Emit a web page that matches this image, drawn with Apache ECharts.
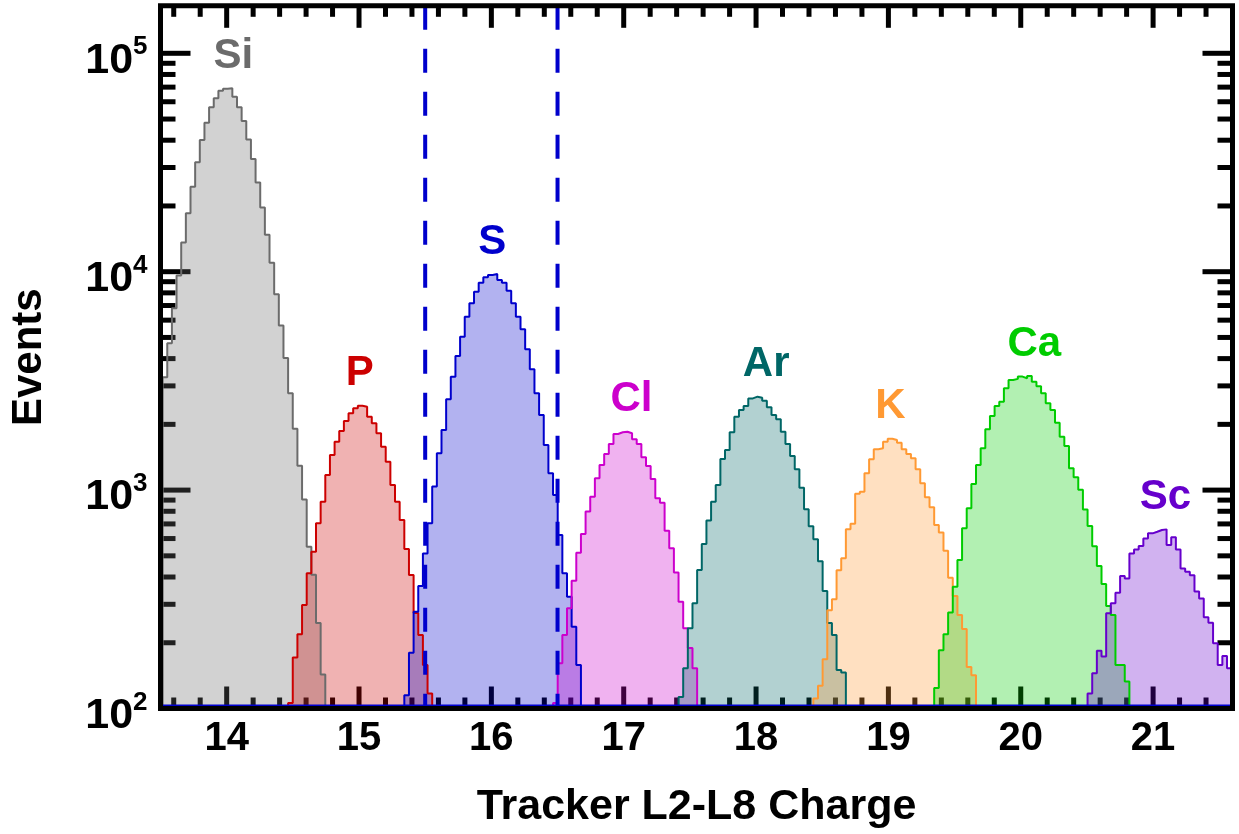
<!DOCTYPE html>
<html>
<head>
<meta charset="utf-8">
<title>Tracker L2-L8 Charge</title>
<script src="https://cdn.jsdelivr.net/npm/echarts@6/dist/echarts.min.js"></script>
<style>
  html, body { margin: 0; padding: 0; background: #ffffff; }
  #chart { width: 1239px; height: 834px; }
</style>
</head>
<body>
<div id="chart"></div>
<script>
// Charge histogram binning: bin k spans [BIN_ORIGIN + k*BIN_WIDTH, BIN_ORIGIN + (k+1)*BIN_WIDTH]
const BIN_ORIGIN = 13.516;
const BIN_WIDTH = 0.03512;

// Axis ranges
const X_MIN = 13.5, X_MAX = 21.6;
const Y_MIN = 100, Y_MAX = 165000;

// Selection cuts on the tracker charge (dashed lines)
const CUTS = [15.5, 16.5];

// Species, their charge and colours
const ELEMENTS = ['Si', 'P', 'S', 'Cl', 'Ar', 'K', 'Ca', 'Sc'];
const ELEMENT_Z = [14, 15, 16, 17, 18, 19, 20, 21];
const COLORS = ['#6b6b6b', '#cc0000', '#0000cc', '#cc00cc', '#006666', '#ff9933', '#00cc00', '#6600cc'];

// First filled bin of each histogram
const FIRST_BIN = [0, 27, 52, 84, 111, 140, 166, 199];

// Events per bin
const siCounts = [3290, 4700, 6800, 9600, 13600, 18500, 24500, 31700, 40100, 48100, 56600, 62300,
  67300, 68800, 69200, 63200, 56600, 49000, 40300, 32800, 25600, 19700, 14750, 10980, 7890, 5670,
  4025, 2773, 1909, 1293, 905, 550, 410, 246, 143];
const pCounts = [106, 171, 219, 298, 416, 522, 705, 885, 1172, 1448, 1667, 1865, 2072, 2247, 2369,
  2436, 2410, 2168, 2022, 1820, 1581, 1349, 1055, 885, 730, 538, 409, 274, 217, 158, 117];
const sCounts = [115, 180, 277, 364, 513, 705, 1040, 1474, 1885, 2604, 3306, 4112, 5040, 6223, 7165,
  8098, 8904, 9420, 9660, 9760, 9150, 8904, 8180, 7165, 6223, 5450, 4412, 3573, 2775, 2208, 1609,
  1194, 950, 623, 416, 325, 237, 158];
const clCounts = [106, 161, 217, 288, 385, 517, 630, 797, 933, 1132, 1303, 1463, 1626, 1807, 1839,
  1851, 1820, 1709, 1626, 1413, 1290, 1124, 917, 876, 652, 541, 419, 308, 233, 189, 153];
const arCounts = [113, 153, 233, 303, 431, 566, 725, 885, 1055, 1388, 1526, 1839, 2168, 2327, 2427,
  2630, 2678, 2650, 2566, 2393, 2208, 2109, 1851, 1626, 1432, 1245, 1025, 817, 683, 596, 472, 345,
  246, 217, 150, 146];
const kCounts = [111, 127, 168, 282, 316, 430, 487, 661, 702, 963, 984, 1194, 1384, 1538, 1553, 1666,
  1719, 1696, 1649, 1538, 1463, 1398, 1245, 1074, 927, 834, 692, 640, 527, 397, 327, 268, 231, 155, 142];
const caCounts = [124, 185, 219, 275, 361, 479, 668, 825, 1067, 1303, 1553, 1898, 2183, 2427, 2540,
  2924, 3192, 3230, 3310, 3250, 3330, 3135, 2990, 2773, 2497, 2327, 2036, 1757, 1592, 1259, 1145,
  1005, 815, 684, 553, 449, 372, 295, 268, 158, 158, 133];
const scCounts = [117, 145, 184, 173, 273, 303, 339, 404, 394, 512, 535, 554, 601, 634, 645, 657, 661,
  561, 608, 535, 438, 423, 408, 343, 319, 262, 247, 199, 158, 174, 153];

const COUNTS = [siCounts, pCounts, sCounts, clCounts, arCounts, kCounts, caCounts, scCounts];

// Tick values
const X_MAJOR = [14, 15, 16, 17, 18, 19, 20, 21];
const X_MINOR_STEP = 0.2;
const Y_DECADES = [100, 1000, 10000, 100000];

const FONT_FAMILY = '"Liberation Sans", Arial, Helvetica, sans-serif';
const EMPTY_LEVEL = 1; // level used outside a histogram (below the axis floor)

function binEdge(k) {
  return Math.round((BIN_ORIGIN + k * BIN_WIDTH) * 1e6) / 1e6;
}

function histogramPoints(firstBin, counts) {
  const pts = [[binEdge(firstBin), EMPTY_LEVEL]];
  counts.forEach((c, i) => pts.push([binEdge(firstBin + i), c]));
  pts.push([binEdge(firstBin + counts.length), EMPTY_LEVEL]);
  return pts;
}

// Minor tick positions
const xMinor = [];
for (let i = 1; ; i++) {
  const v = Math.round((X_MIN + 0.1 + (i - 1) * X_MINOR_STEP) * 1000) / 1000;
  if (v > X_MAX + 1e-9) break;
  if (Math.abs(v - Math.round(v)) > 1e-6) xMinor.push(v);
}
const yMinor = [];
Y_DECADES.forEach(d => {
  for (let m = 2; m <= 9; m++) {
    const v = d * m;
    if (v < Y_MAX) yMinor.push(v);
  }
});

// Frame ticks, drawn beneath the histograms
function renderTicks(params, api) {
  const cs = params.coordSys;
  const left = cs.x, right = cs.x + cs.width, top = cs.y, bottom = cs.y + cs.height;
  const style = { stroke: '#000', lineWidth: 5 };
  const children = [];
  const xTick = (v, len) => {
    const px = api.coord([v, Y_MIN])[0];
    children.push({ type: 'line', shape: { x1: px, y1: bottom, x2: px, y2: bottom - len }, style });
    children.push({ type: 'line', shape: { x1: px, y1: top, x2: px, y2: top + len }, style });
  };
  const yTick = (v, len) => {
    const py = api.coord([X_MIN, v])[1];
    children.push({ type: 'line', shape: { x1: left, y1: py, x2: left + len, y2: py }, style });
    children.push({ type: 'line', shape: { x1: right, y1: py, x2: right - len, y2: py }, style });
  };
  X_MAJOR.forEach(v => xTick(v, 22));
  xMinor.forEach(v => xTick(v, 11));
  Y_DECADES.forEach(v => yTick(v, 30));
  yMinor.forEach(v => yTick(v, 15));
  return { type: 'group', children };
}

// Cut lines, species labels and the frame, drawn on top
function renderOverlay(params, api) {
  const cs = params.coordSys;
  const left = cs.x, right = cs.x + cs.width, top = cs.y, bottom = cs.y + cs.height;
  const children = [];
  children.push({
    type: 'line',
    shape: { x1: left, y1: bottom - 3, x2: right, y2: bottom - 3 },
    style: { stroke: '#0000cc', lineWidth: 2 }
  });
  CUTS.forEach(c => {
    const pTop = api.coord([c, Y_MAX]);
    const pBot = api.coord([c, Y_MIN]);
    children.push({
      type: 'line',
      shape: { x1: pTop[0], y1: pTop[1], x2: pBot[0], y2: pBot[1] },
      style: { stroke: '#0000cc', lineWidth: 4, lineDash: [24, 19] }
    });
  });
  ELEMENTS.forEach((name, i) => {
    const peak = Math.max.apply(null, COUNTS[i]);
    const p = api.coord([ELEMENT_Z[i] - 0.1, peak]);
    children.push({
      type: 'text',
      x: p[0],
      y: p[1] - 32,
      style: {
        text: name,
        fill: COLORS[i],
        font: 'bold 42px ' + FONT_FAMILY,
        align: 'left',
        verticalAlign: 'middle'
      }
    });
  });
  children.push({
    type: 'rect',
    shape: { x: left, y: top, width: right - left, height: bottom - top },
    style: { fill: 'none', stroke: '#000', lineWidth: 5 }
  });
  return { type: 'group', children };
}

const histogramSeries = ELEMENTS.map((name, i) => ({
  name: name,
  type: 'line',
  step: 'end',
  symbol: 'none',
  showSymbol: false,
  clip: true,
  z: 2,
  lineStyle: { color: COLORS[i], width: 2 },
  itemStyle: { color: COLORS[i] },
  areaStyle: { color: COLORS[i], opacity: 0.3, origin: 'start' },
  data: histogramPoints(FIRST_BIN[i], COUNTS[i])
}));

const chart = echarts.init(document.getElementById('chart'), null, { renderer: 'canvas' });

chart.setOption({
  animation: false,
  backgroundColor: '#ffffff',
  grid: {
    left: 160.5, right: 6.5, top: 5.8, bottom: 125.5,
    containLabel: false,
    outerBoundsMode: 'none'
  },
  xAxis: {
    type: 'value',
    min: X_MIN,
    max: X_MAX,
    interval: 0.5,
    name: 'Tracker L2-L8 Charge',
    nameLocation: 'middle',
    nameGap: 77,
    nameTextStyle: { fontSize: 43, fontWeight: 'bold', fontFamily: FONT_FAMILY, color: '#000' },
    axisLine: { show: false },
    axisTick: { show: false },
    splitLine: { show: false },
    axisLabel: {
      margin: 10,
      fontSize: 40,
      fontWeight: 'bold',
      fontFamily: FONT_FAMILY,
      color: '#000',
      formatter: v => (Math.abs(v - Math.round(v)) < 1e-6 ? String(Math.round(v)) : '')
    }
  },
  yAxis: {
    type: 'log',
    logBase: 10,
    min: Y_MIN,
    max: Y_MAX,
    name: 'Events',
    nameLocation: 'middle',
    nameGap: 110,
    nameRotate: 90,
    nameTextStyle: { fontSize: 42, fontWeight: 'bold', fontFamily: FONT_FAMILY, color: '#000' },
    axisLine: { show: false },
    axisTick: { show: false },
    splitLine: { show: false },
    axisLabel: {
      margin: 13,
      padding: [10, 0, 0, 0],
      formatter: v => {
        const e = Math.log10(v);
        if (Math.abs(e - Math.round(e)) > 1e-6) return '';
        return '{b|10}{s|' + Math.round(e) + '}';
      },
      rich: {
        b: { fontSize: 43, lineHeight: 48, fontWeight: 'bold', fontFamily: FONT_FAMILY, color: '#000', verticalAlign: 'bottom' },
        s: { fontSize: 26, lineHeight: 26, fontWeight: 'bold', fontFamily: FONT_FAMILY, color: '#000', verticalAlign: 'top' }
      }
    }
  },
  series: [
    {
      type: 'custom',
      name: 'ticks',
      coordinateSystem: 'cartesian2d',
      silent: true,
      z: 1,
      renderItem: renderTicks,
      data: [[X_MIN, Y_MIN]]
    }
  ].concat(histogramSeries).concat([
    {
      type: 'custom',
      name: 'overlay',
      coordinateSystem: 'cartesian2d',
      silent: true,
      z: 5,
      clip: false,
      renderItem: renderOverlay,
      data: [[X_MIN, Y_MIN]]
    }
  ])
});
</script>
</body>
</html>
